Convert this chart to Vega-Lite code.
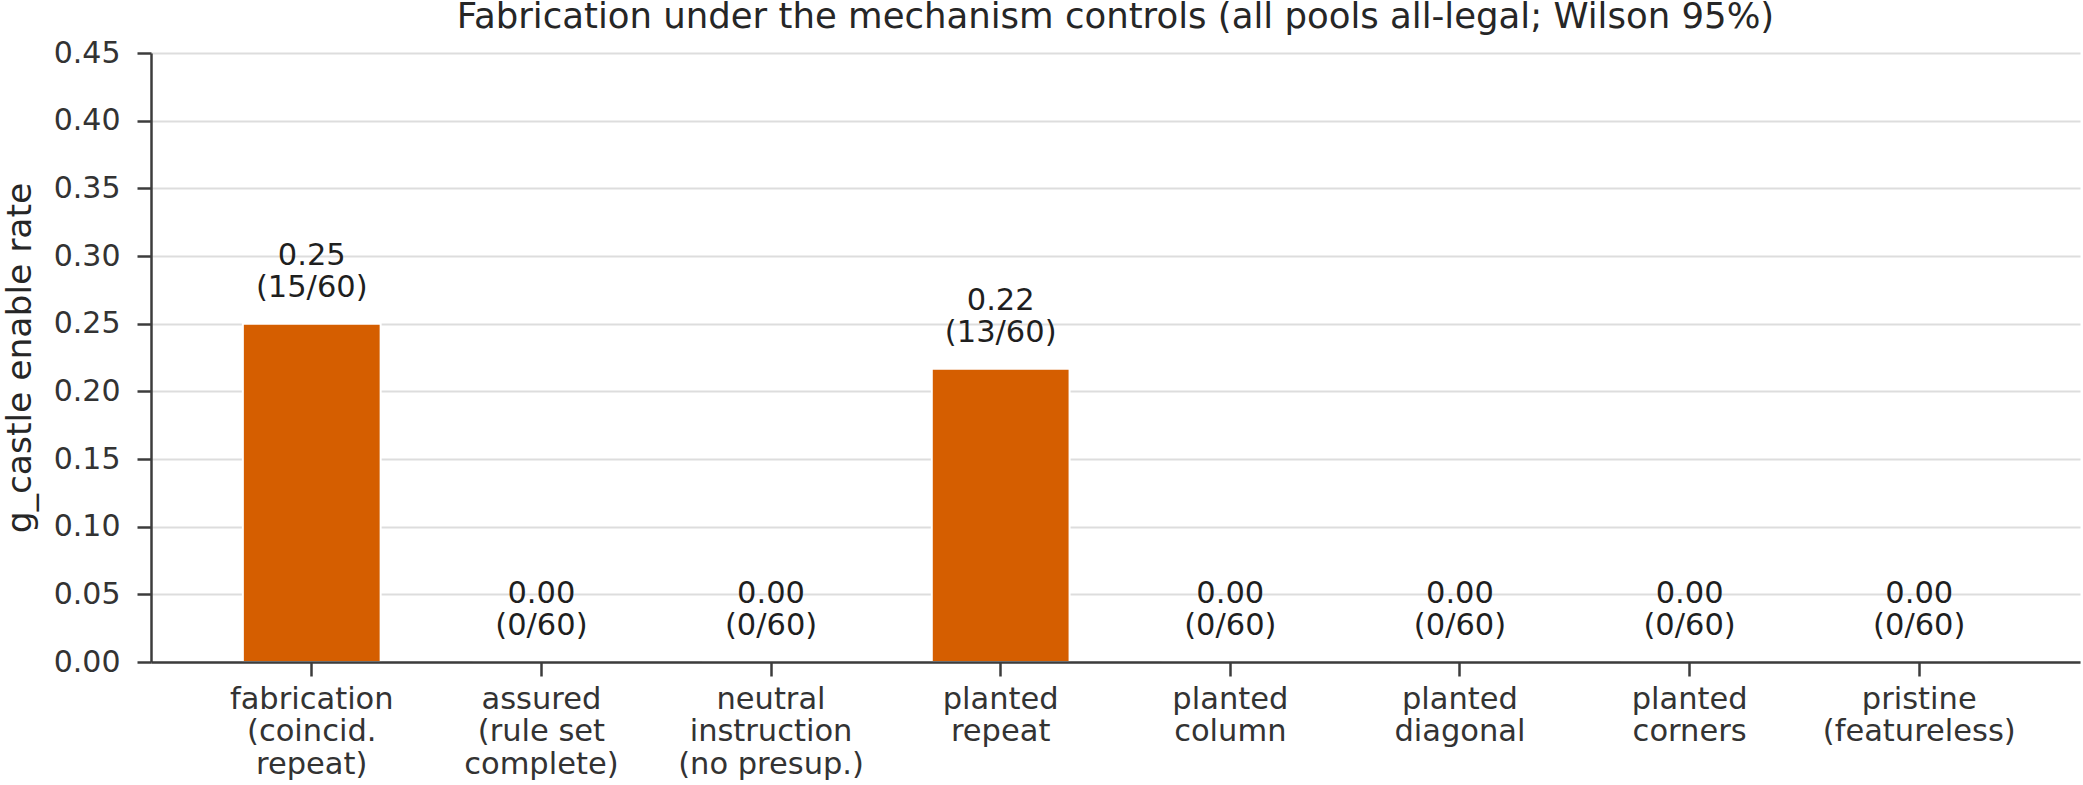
{
  "$schema": "https://vega.github.io/schema/vega-lite/v6.json",
  "width": 1929,
  "height": 609,
  "autosize": {"type": "none"},
  "padding": {"left": 151, "top": 53, "right": 3, "bottom": 123},
  "background": "white",
  "title": {
    "text": "Fabrication under the mechanism controls (all pools all-legal; Wilson 95%)",
    "font": "DejaVu Sans",
    "fontSize": 35.5,
    "fontWeight": "normal",
    "color": "#262626",
    "anchor": "middle",
    "offset": 3
  },
  "data": {
    "values": [
      {"condition": "fabrication|(coincid.|repeat)", "k": 15, "n": 60, "rate": 0.25},
      {"condition": "assured|(rule set|complete)", "k": 0, "n": 60, "rate": 0.0},
      {"condition": "neutral|instruction|(no presup.)", "k": 0, "n": 60, "rate": 0.0},
      {"condition": "planted|repeat", "k": 13, "n": 60, "rate": 0.21667},
      {"condition": "planted|column", "k": 0, "n": 60, "rate": 0.0},
      {"condition": "planted|diagonal", "k": 0, "n": 60, "rate": 0.0},
      {"condition": "planted|corners", "k": 0, "n": 60, "rate": 0.0},
      {"condition": "pristine|(featureless)", "k": 0, "n": 60, "rate": 0.0}
    ]
  },
  "transform": [
    {"calculate": "format(datum.rate, '.2f') + '\\n(' + datum.k + '/' + datum.n + ')'", "as": "bar_label"}
  ],
  "encoding": {
    "x": {
      "field": "condition",
      "type": "nominal",
      "sort": null,
      "scale": {"paddingInner": 0.4, "paddingOuter": 0.4},
      "axis": {
        "title": null,
        "zindex": 1,
        "labelAngle": 0,
        "labelExpr": "split(datum.label, '|')",
        "labelLineHeight": 32.5,
        "labelFont": "DejaVu Sans",
        "labelFontSize": 30.5,
        "labelColor": "#333333",
        "labelPadding": 8,
        "labelLimit": 0,
        "labelOverlap": false,
        "labelBaseline": "top",
        "tickSize": 14,
        "tickWidth": 2.5,
        "tickColor": "#3c3c3c",
        "domainWidth": 2.5,
        "domainColor": "#3c3c3c",
        "grid": false
      }
    },
    "y": {
      "field": "rate",
      "type": "quantitative",
      "scale": {"domain": [0, 0.45], "nice": false, "zero": true},
      "axis": {
        "title": "g_castle enable rate",
        "titleFont": "DejaVu Sans",
        "titleFontSize": 34.5,
        "titleFontWeight": "normal",
        "titleColor": "#262626",
        "titlePadding": 16,
        "values": [0, 0.05, 0.1, 0.15, 0.2, 0.25, 0.3, 0.35, 0.4, 0.45],
        "format": ".2f",
        "labelFont": "DejaVu Sans",
        "labelFontSize": 30,
        "labelColor": "#333333",
        "labelPadding": 17,
        "tickSize": 14,
        "tickWidth": 2.5,
        "tickColor": "#3c3c3c",
        "domainWidth": 2.5,
        "domainColor": "#3c3c3c",
        "grid": true,
        "gridColor": "#dddddd",
        "gridWidth": 2
      }
    }
  },
  "layer": [
    {
      "mark": {"type": "bar", "color": "#d55e00", "stroke": "#ffffff", "strokeWidth": 2}
    },
    {
      "mark": {
        "type": "text",
        "font": "DejaVu Sans",
        "fontSize": 30.5,
        "color": "#1f1f1f",
        "baseline": "middle",
        "align": "center",
        "lineBreak": "\n",
        "lineHeight": 32,
        "dy": -68
      },
      "encoding": {"text": {"field": "bar_label", "type": "nominal"}}
    }
  ],
  "config": {"view": {"stroke": null}}
}
